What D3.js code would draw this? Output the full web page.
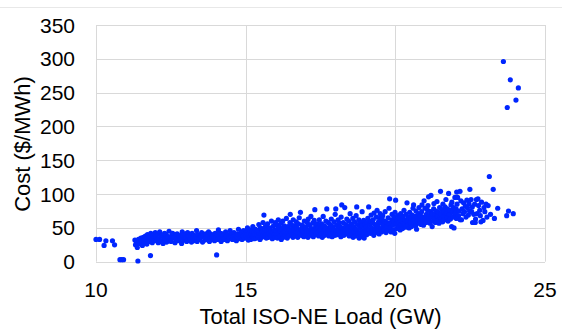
<!DOCTYPE html>
<html>
<head>
<meta charset="utf-8">
<script src="https://cdn.jsdelivr.net/npm/d3@7"></script>
<style>
  html, body { margin: 0; padding: 0; background: #fff; }
  svg { display: block; font-family: "Liberation Sans", Arial, sans-serif; }
</style>
</head>
<body>
<svg id="chart"></svg>
<script>
const WIDTH = 562;
const HEIGHT = 329;

const xTicks = [10, 15, 20, 25];
const yTicks = [0, 50, 100, 150, 200, 250, 300, 350];
const xTitle = 'Total ISO-NE Load (GW)';
const yTitle = 'Cost ($/MWh)';

// [load GW, cost $/MWh]
const lowLoad = [
  [10.0,33],[10.12,33],[10.27,24],[10.33,31],[10.55,31],[10.62,25],[10.8,3],[10.86,3],[10.92,3],[11.4,1],[11.82,9],
  [11.3,32],[11.32,25],[11.35,29],[11.38,21],[11.42,33],[11.45,27],[11.5,35],[11.52,30],[11.55,24],[11.58,36],
  [11.6,32],[11.62,28],[11.65,38],[11.68,33],[11.7,26],[11.72,40],[11.75,35],[11.78,30],[11.8,37],[11.83,42],
  [11.86,33],[11.88,28],[11.9,39],[11.93,35],[11.95,31],[11.98,43]
];

const midLoad = [
  [12.01,37],[12.04,32],[12.06,41],[12.08,28],[12.11,34],[12.13,44],[12.16,30],[12.18,38],
  [12.21,39],[12.24,27],[12.26,35],[12.29,42],[12.31,33],[12.33,40],[12.36,29],[12.38,36],
  [12.42,37],[12.44,45],[12.46,31],[12.49,34],[12.51,30],[12.53,38],[12.56,42],[12.58,35],
  [12.61,36],[12.64,28],[12.66,40],[12.68,33],[12.71,41],[12.73,35],[12.76,31],[12.79,37],
  [12.81,34],[12.83,39],[12.86,27],[12.88,44],[12.91,38],[12.94,32],[12.96,36],[12.98,41],
  [13.01,35],[13.03,30],[13.06,43],[13.08,38],[13.11,37],[13.14,33],[13.16,40],[13.19,29],
  [13.21,42],[13.23,36],[13.26,31],[13.28,39],[13.31,34],[13.34,38],[13.36,46],[13.38,30],
  [13.41,40],[13.43,35],[13.46,33],[13.49,37],[13.51,36],[13.53,43],[13.56,29],[13.58,39],
  [13.61,38],[13.64,32],[13.66,41],[13.68,35],[13.71,34],[13.73,39],[13.76,44],[13.79,30],
  [13.81,37],[13.83,41],[13.86,33],[13.88,36],[13.91,39],[13.94,35],[13.96,31],[13.98,42],
  [14.01,36],[14.03,10],[14.05,40],[14.07,33],[14.09,47],[14.11,38],[14.14,34],[14.16,42],[14.18,30],
  [14.21,41],[14.23,36],[14.26,39],[14.28,33],[14.31,35],[14.33,44],[14.36,38],[14.39,31],
  [14.41,40],[14.44,37],[14.46,34],[14.48,46],[14.51,38],[14.53,42],[14.56,33],[14.58,36],
  [14.61,43],[14.63,35],[14.66,39],[14.69,31],[14.71,37],[14.74,41],[14.76,48],[14.78,34],
  [14.81,40],[14.83,36],[14.86,44],[14.88,33],[14.91,38],[14.93,46],[14.96,35],[14.98,42]
];

const highLoad = [
  [15.01,39],[15.03,44],[15.04,35],[15.06,50],[15.08,41],[15.09,32],
  [15.11,42],[15.13,37],[15.15,47],[15.17,33],[15.19,40],
  [15.21,45],[15.23,38],[15.24,52],[15.26,36],[15.28,43],[15.29,34],
  [15.31,40],[15.33,48],[15.35,35],[15.37,44],[15.39,39],
  [15.41,46],[15.43,37],[15.44,55],[15.46,42],[15.48,33],[15.49,50],
  [15.51,41],[15.53,49],[15.54,36],[15.56,44],[15.58,58],[15.59,39],
  [15.61,69],[15.63,43],[15.64,38],[15.66,52],[15.68,47],[15.69,35],
  [15.71,44],[15.73,56],[15.74,40],[15.76,36],[15.78,48],[15.79,42],
  [15.81,50],[15.83,38],[15.84,45],[15.86,60],[15.88,41],[15.89,34],
  [15.91,43],[15.93,53],[15.94,39],[15.96,47],[15.98,36],[15.99,58],
  [16.01,46],[16.03,40],[16.04,55],[16.06,35],[16.08,49],[16.09,62],
  [16.11,42],[16.13,51],[16.14,38],[16.16,45],[16.18,57],[16.19,33],
  [16.21,48],[16.23,41],[16.24,60],[16.26,36],[16.28,44],[16.29,53],
  [16.31,45],[16.33,39],[16.34,50],[16.36,64],[16.38,42],[16.39,35],
  [16.41,52],[16.43,43],[16.44,38],[16.46,47],[16.48,58],[16.49,70],
  [16.51,44],[16.53,55],[16.54,40],[16.56,49],[16.58,36],[16.59,62],
  [16.61,47],[16.63,41],[16.64,53],[16.66,38],[16.68,45],[16.69,59],
  [16.71,50],[16.73,43],[16.74,36],[16.76,56],[16.78,46],[16.79,65],
  [16.81,42],[16.83,73],[16.84,48],[16.86,39],[16.88,54],[16.89,45],
  [16.91,46],[16.93,52],[16.94,37],[16.96,60],[16.98,43],[16.99,49],
  [17.01,51],[17.03,40],[17.04,45],[17.06,58],[17.08,36],[17.09,63],
  [17.11,44],[17.13,54],[17.14,39],[17.16,48],[17.18,67],[17.19,42],
  [17.21,49],[17.23,43],[17.24,57],[17.26,37],[17.28,46],[17.29,61],
  [17.31,77],[17.33,45],[17.34,52],[17.36,40],[17.38,48],[17.39,56],
  [17.41,43],[17.43,50],[17.44,38],[17.46,62],[17.48,46],[17.49,55],
  [17.51,48],[17.53,41],[17.54,56],[17.56,36],[17.58,52],[17.59,67],
  [17.61,45],[17.63,53],[17.64,39],[17.66,47],[17.68,60],[17.69,42],
  [17.71,78],[17.73,50],[17.74,44],[17.76,58],[17.78,38],[17.79,47],
  [17.81,46],[17.83,55],[17.84,41],[17.86,63],[17.88,49],[17.89,37],
  [17.91,52],[17.93,43],[17.94,48],[17.96,59],[17.98,39],[17.99,70],
  [18.01,78],[18.03,45],[18.04,54],[18.06,40],[18.08,49],[18.09,62],
  [18.11,47],[18.13,57],[18.14,42],[18.16,51],[18.18,37],[18.19,66],
  [18.21,84],[18.23,50],[18.24,44],[18.26,58],[18.28,39],[18.29,48],
  [18.31,80],[18.33,46],[18.34,55],[18.36,41],[18.38,63],[18.39,52],
  [18.41,49],[18.43,43],[18.44,60],[18.46,38],[18.48,53],[18.49,71],
  [18.51,45],[18.53,56],[18.54,40],[18.56,50],[18.58,64],[18.59,36],
  [18.61,52],[18.63,44],[18.64,59],[18.66,38],[18.68,48],[18.69,68],
  [18.71,81],[18.73,47],[18.74,55],[18.76,41],[18.78,62],[18.79,35],
  [18.81,50],[18.83,43],[18.84,58],[18.86,37],[18.88,53],[18.89,74],
  [18.91,46],[18.93,40],[18.94,61],[18.96,35],[18.98,49],[18.99,56]
];

const peakLoad = [
  [19.01,45],[19.03,52],[19.04,40],[19.06,58],[19.08,64],[19.09,48],
  [19.11,81],[19.13,47],[19.14,55],[19.16,42],[19.18,60],[19.19,69],
  [19.21,50],[19.23,44],[19.24,57],[19.26,62],[19.28,39],[19.29,72],
  [19.31,48],[19.33,55],[19.34,43],[19.36,66],[19.38,52],[19.39,76],
  [19.41,53],[19.43,46],[19.44,59],[19.46,41],[19.48,64],[19.49,71],
  [19.51,49],[19.53,57],[19.54,44],[19.56,62],[19.58,68],[19.59,52],
  [19.61,55],[19.63,47],[19.64,60],[19.66,74],[19.68,51],[19.69,43],
  [19.71,52],[19.73,58],[19.74,46],[19.76,65],[19.78,56],[19.79,79],
  [19.81,93],[19.83,50],[19.84,57],[19.86,44],[19.88,62],[19.89,70],
  [19.91,54],[19.93,47],[19.94,60],[19.96,66],[19.98,42],[19.99,73],
  [20.01,91],[20.03,56],[20.04,49],[20.06,62],[20.08,53],[20.09,68],
  [20.11,58],[20.13,51],[20.14,64],[20.16,47],[20.18,71],[20.19,55],
  [20.21,53],[20.23,60],[20.24,49],[20.26,67],[20.28,57],[20.29,76],
  [20.31,56],[20.33,62],[20.34,51],[20.36,70],[20.38,59],[20.39,87],
  [20.41,60],[20.43,54],[20.44,66],[20.46,50],[20.48,73],[20.49,58],
  [20.51,58],[20.53,64],[20.54,52],[20.56,69],[20.58,61],[20.59,79],
  [20.61,84],[20.63,62],[20.64,56],[20.66,67],[20.68,53],[20.69,75],
  [20.71,48],[20.73,60],[20.74,65],[20.76,71],[20.78,57],[20.79,80],
  [20.81,63],[20.83,58],[20.84,68],[20.86,55],[20.88,74],[20.89,84],
  [20.91,60],[20.93,66],[20.94,54],[20.96,90],[20.98,63],[20.99,79],
  [21.01,65],[21.03,58],[21.04,70],[21.06,61],[21.08,76],[21.09,83],
  [21.11,96],[21.13,63],[21.14,68],[21.16,57],[21.18,74],[21.19,98],
  [21.21,66],[21.23,52],[21.24,71],[21.26,60],[21.28,78],[21.29,86],
  [21.31,64],[21.33,70],[21.34,58],[21.36,75],[21.38,67],[21.39,89],
  [21.41,68],[21.43,61],[21.44,73],[21.46,57],[21.48,80],[21.49,66],
  [21.51,104],[21.53,70],[21.54,64],[21.56,77],[21.58,59],[21.59,85],
  [21.61,67],[21.63,74],[21.64,62],[21.66,81],[21.68,70],[21.69,92],
  [21.71,72],[21.73,65],[21.74,78],[21.76,60],[21.78,101],[21.79,69],
  [21.81,70],[21.83,76],[21.84,63],[21.86,84],[21.88,52],[21.89,88],
  [21.91,74],[21.93,66],[21.94,80],[21.96,50],[21.98,71],[21.99,95],
  [22.01,72],[22.03,78],[22.04,64],[22.05,103],[22.06,85],[22.08,95],
  [22.11,68],[22.13,75],[22.16,104],[22.17,62],[22.19,90],
  [22.21,62],[22.23,78],[22.26,71],[22.28,87],
  [22.31,74],[22.34,82],[22.36,66],[22.39,91],
  [22.41,80],[22.44,69],[22.46,86],[22.49,107],[22.48,75],
  [22.53,92],[22.55,74],[22.57,81],[22.58,58],
  [22.62,70],[22.65,85],[22.67,58],[22.68,63],
  [22.71,92],[22.76,93],[22.73,71],[22.78,83],
  [22.82,76],[22.86,59],[22.88,88],[22.84,68],
  [22.93,61],[22.96,80],[22.99,74],
  [23.03,85],[23.06,66],[23.1,83],
  [23.14,126],[23.18,70],
  [23.27,107],[23.31,64],[23.42,79],
  [23.72,68],[23.78,75],[23.94,71]
];

const spikes = [[23.61,296],[23.84,269],[24.11,257],[24.03,239],[23.74,228]];

const allPoints = [].concat(lowLoad, midLoad, highLoad, peakLoad, spikes);

const svg = d3.select('#chart')
  .attr('width', WIDTH)
  .attr('height', HEIGHT);

// outer chart border peeking in at the top
svg.append('line')
  .attr('x1', 0).attr('x2', WIDTH)
  .attr('y1', 7.5).attr('y2', 7.5)
  .attr('stroke', '#e8e8e8')
  .attr('stroke-width', 1);

const x = d3.scaleLinear().domain([10, 25]).range([96, 545]);
const y = d3.scaleLinear().domain([0, 350]).range([261.7, 25]);

const grid = svg.append('g');

// horizontal gridlines
grid.selectAll('line.h')
  .data(yTicks)
  .enter()
  .append('line')
  .attr('class', 'h')
  .attr('x1', x(10)).attr('x2', x(25))
  .attr('y1', (d) => Math.round(y(d)) + 0.5)
  .attr('y2', (d) => Math.round(y(d)) + 0.5)
  .attr('stroke', '#d9d9d9')
  .attr('stroke-width', 1);

// vertical gridlines
grid.selectAll('line.v')
  .data(xTicks)
  .enter()
  .append('line')
  .attr('class', 'v')
  .attr('x1', (d) => Math.round(x(d)) + 0.5)
  .attr('x2', (d) => Math.round(x(d)) + 0.5)
  .attr('y1', y(350)).attr('y2', y(0))
  .attr('stroke', '#d9d9d9')
  .attr('stroke-width', 1);

// y tick labels
svg.append('g')
  .selectAll('text')
  .data(yTicks)
  .enter()
  .append('text')
  .attr('x', 75)
  .attr('y', (d) => y(d))
  .attr('dy', '0.36em')
  .attr('text-anchor', 'end')
  .attr('font-size', 21)
  .attr('fill', '#000')
  .text((d) => d);

// x tick labels
svg.append('g')
  .selectAll('text')
  .data(xTicks)
  .enter()
  .append('text')
  .attr('x', (d) => x(d))
  .attr('y', 296.5)
  .attr('text-anchor', 'middle')
  .attr('font-size', 21)
  .attr('fill', '#000')
  .text((d) => d);

// axis titles
svg.append('text')
  .attr('x', 320.5)
  .attr('y', 324)
  .attr('text-anchor', 'middle')
  .attr('font-size', 22)
  .attr('fill', '#000')
  .text(xTitle);

svg.append('text')
  .attr('transform', 'translate(30,144) rotate(-90)')
  .attr('text-anchor', 'middle')
  .attr('font-size', 22)
  .attr('fill', '#000')
  .text(yTitle);

// points
svg.append('g')
  .selectAll('circle')
  .data(allPoints)
  .enter()
  .append('circle')
  .attr('cx', (d) => x(d[0]))
  .attr('cy', (d) => y(d[1]))
  .attr('r', 2.6)
  .attr('fill', '#0026ff');
</script>
</body>
</html>
